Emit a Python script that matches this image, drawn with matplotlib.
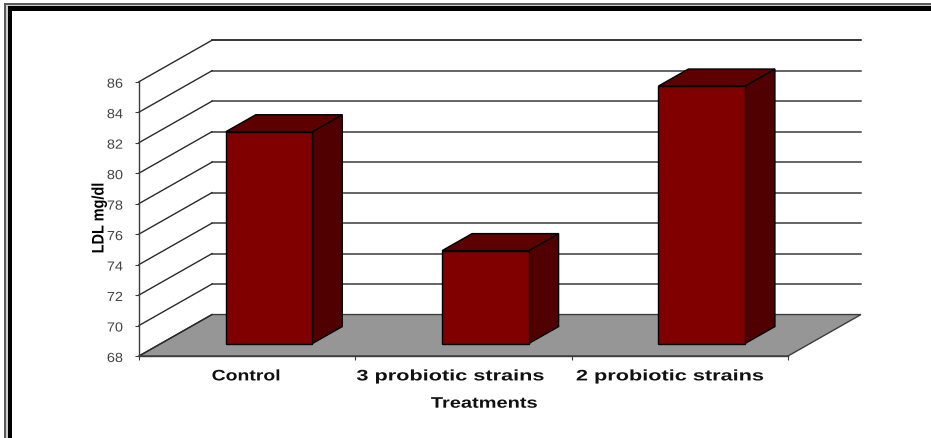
import matplotlib.pyplot as plt
from matplotlib.patches import Polygon, Rectangle
from matplotlib.patheffects import AbstractPathEffect
from matplotlib.transforms import Affine2D

treatments = ['Control', '3 probiotic strains', '2 probiotic strains']
ldl_values = [81.9, 74.1, 84.9]
y_ticks = [68, 70, 72, 74, 76, 78, 80, 82, 84, 86]

W, H = 931, 439
fig = plt.figure(figsize=(W / 100, H / 100), dpi=100, facecolor='white')
plt.rcParams['font.family'] = ['Liberation Sans', 'DejaVu Sans']


# widens a text about its own middle, the labels here are set in a wide face
class Widen(AbstractPathEffect):
    def __init__(self, factor, drop=0):
        super().__init__()
        self.factor = factor
        self.drop = drop

    def draw_path(self, renderer, gc, tpath, affine, rgbFace=None):
        box = tpath.get_extents()
        mid = (box.x0 + box.x1) / 2
        wide = Affine2D().translate(-mid, 0).scale(self.factor, 1).translate(mid, 0)
        renderer.draw_path(gc, tpath, wide + affine + Affine2D().translate(0, -self.drop), rgbFace)


# double border round the whole figure, running off the right and bottom edges
def frame_bar(x, y, w, h, color):
    fig.add_artist(Rectangle((x / W, 1 - (y + h) / H), w / W, h / H, color=color,
                             transform=fig.transFigure, lw=0, zorder=-5))

frame_bar(4, 4, W - 4, H - 4, '#5a5a5a')
frame_bar(6, 6, W - 6, H - 6, '#d0d0d0')
frame_bar(8, 7, W - 8, H - 7, 'black')
frame_bar(12, 12, W - 12, H - 12, 'white')

ax = fig.add_axes([139 / W, 1 - 357 / H, 649 / W, 274.3 / H])
ax.set_xlim(0, 3)
ax.set_ylim(68, 86)
ax.patch.set_visible(False)

# depth of the fake 3D box in data units
depth_x = 0.3374
depth_y = 2.72


def skew(x, y, d):
    return (x + d * depth_x, y + d * depth_y)


base = y_ticks[0]
ax.add_patch(Polygon([skew(0, base, 0), skew(3, base, 0), skew(3, base, 1), skew(0, base, 1)],
                     closed=True, fc='#969696', ec='#3c3c3c', lw=1.0, zorder=1, clip_on=False))

for t in y_ticks:
    if t != base:
        color = 'black' if t == y_ticks[-1] else '#3a3a3a'
        ax.plot([skew(0, t, 1)[0], skew(3, t, 1)[0]], [t + depth_y] * 2, color=color,
                lw=1.1, zorder=1, clip_on=False)
    ax.plot([0, depth_x], [t, t + depth_y], color='#2a2a2a', lw=1.0, zorder=1, clip_on=False)

# bars: front, top and side faces
bar_w = 0.4
d0, d1 = 0.3, 0.71
for i, val in enumerate(ldl_values):
    x0 = i + 0.5 - bar_w / 2
    x1 = x0 + bar_w
    front = [skew(x0, base, d0), skew(x1, base, d0), skew(x1, val, d0), skew(x0, val, d0)]
    top = [skew(x0, val, d0), skew(x1, val, d0), skew(x1, val, d1), skew(x0, val, d1)]
    side = [skew(x1, base, d0), skew(x1, base, d1), skew(x1, val, d1), skew(x1, val, d0)]
    ax.add_patch(Polygon(side, closed=True, fc='#500000', ec='black', lw=1.0, zorder=3, clip_on=False))
    ax.add_patch(Polygon(top, closed=True, fc='#5c0000', ec='black', lw=1.0, zorder=3, clip_on=False))
    ax.add_patch(Polygon(front, closed=True, fc='#800000', ec='black', lw=1.0, zorder=4, clip_on=False))

for s in ['top', 'right']:
    ax.spines[s].set_visible(False)
for s in ['left', 'bottom']:
    ax.spines[s].set_color('#3c3c3c')
    ax.spines[s].set_linewidth(1.0)
    ax.spines[s].set_zorder(2)

ax.set_yticks(y_ticks)
ax.set_xticks([0, 1, 2, 3])
ax.set_xticklabels([])
ax.tick_params(axis='both', length=3, width=0.8, color='#3c3c3c')
ax.tick_params(axis='y', pad=9, labelsize=9.5, labelcolor='#444444')
for lab in ax.get_yticklabels():
    lab.set_path_effects([Widen(1.1, drop=1.5)])

# category names sit a little off the tick centres
label_x = [0.495, 1.44, 2.455]
label_wide = [1.27, 1.42, 1.42]
for x, name, k in zip(label_x, treatments, label_wide):
    ax.text(x, 66.66, name, ha='center', va='center', fontsize=11, fontweight='bold',
            color='#111111', path_effects=[Widen(k)])

ax.text(1.595, 64.87, 'Treatments', ha='center', va='center', fontsize=11, fontweight='bold',
        color='#111111', path_effects=[Widen(1.31)])
ax.text(-0.185, 77.05, 'LDL mg/dl', rotation=90, ha='center', va='center', fontsize=12,
        fontweight='bold', color='black', zorder=6, path_effects=[Widen(0.87)])

fig.savefig('out.png', dpi=100)
